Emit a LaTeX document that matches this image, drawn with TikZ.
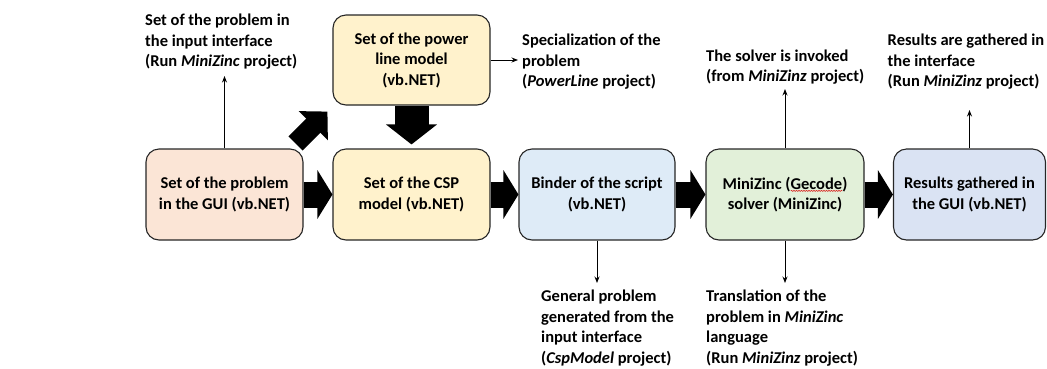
\documentclass[tikz,border=0pt]{standalone}
\usepackage{fontspec}
\setmainfont{Carlito}
\usetikzlibrary{arrows.meta,calc,decorations.pathmorphing}
\definecolor{cPink}{HTML}{FBE5D6}
\definecolor{cYellow}{HTML}{FFF2CC}
\definecolor{cBlue}{HTML}{DEEBF7}
\definecolor{cGreen}{HTML}{E2F0D9}
\definecolor{cLav}{HTML}{DAE3F3}
\newcommand\labfont{\fontsize{16.5}{20.5}\selectfont\bfseries}
\begin{document}
\begin{tikzpicture}[x=1pt,y=-1pt,
  box/.style={draw=black!85, line width=1.1pt, rounded corners=13pt, minimum width=157pt, minimum height=91pt, align=center, inner sep=0pt, font=\labfont},
  lab/.style={anchor=base west, align=left, inner sep=0pt, font=\labfont},
  thinarrow/.style={line width=0.9pt, -{Stealth[length=6.5pt,width=5pt]}},
  bigarrow/.style={line width=26pt, -{Triangle[length=15pt,width=48pt]}},
]
\useasboundingbox (0,0) rectangle (1047,368);

% boxes
\node[box, fill=cPink] (b1) at (224.5,194.5) {Set of the problem\\in the GUI (vb.NET)};
\node[box, fill=cYellow] (b2) at (411.5,194.5) {Set of the CSP\\model (vb.NET)};
\node[box, fill=cYellow, minimum height=90pt] (pw) at (411.5,60) {Set of the power\\line model\\(vb.NET)};
\node[box, fill=cBlue, minimum width=156pt] (b3) at (597,194.5) {Binder of the script\\(vb.NET)};
\node[box, fill=cGreen, minimum width=158pt] (b4) at (785,194.5) {MiniZinc (Gecode)\\solver (MiniZinc)};
\node[box, fill=cLav, minimum width=152pt] (b5) at (969.5,194.5) {Results gathered in\\the GUI (vb.NET)};

% spell-check underline
\draw[red!85!black, line width=0.5pt, decorate, decoration={snake,amplitude=0.5pt,segment length=2.5pt}]
  ($(b4.center)+(5.7,-3.6)$) -- ($(b4.center)+(57.4,-3.6)$);

% big block arrows
\draw[bigarrow] (b1.east) -- (b2.west);
\draw[bigarrow] (b2.east) -- (b3.west);
\draw[bigarrow] (b3.east) -- (b4.west);
\draw[bigarrow] (b4.east) -- (b5.west);
\draw[line width=34pt, -{Triangle[length=20pt,width=50pt]}] (pw.south) -- ($(b2.north)+(0,-4)$);
\draw[line width=20pt, -{Triangle[length=20pt,width=40pt]}] ($(b1.north east)+(-8,-5)$) -- ($(pw.south west)+(-5,6)$);

% labels (anchor = baseline of the last line)
\node[lab] (l1) at (145,66.5) {Set of the problem in\\the input interface\\(Run \textit{MiniZinc} project)};
\node[lab] (l2) at (522,86.5) {Specialization of the\\problem\\(\textit{PowerLine} project)};
\node[lab] (l3) at (706,81.5) {The solver is invoked\\(from \textit{MiniZinz} project)};
\node[lab] (l4) at (887.5,86.5) {Results are gathered in\\the interface\\(Run \textit{MiniZinz} project)};
\node[lab] (l5) at (541,363) {General problem\\generated from the\\input interface\\(\textit{CspModel} project)};
\node[lab] (l6) at (706,363) {Translation of the\\problem in \textit{MiniZinc}\\language\\(Run \textit{MiniZinz} project)};

% thin arrows
\coordinate (t1) at (224.5,76);
\coordinate (t2) at (518,60);
\coordinate (t3) at (785,89);
\coordinate (t4) at (969.5,110);
\coordinate (t5) at (597,283);
\coordinate (t6) at (785,283);
\draw[thinarrow] (b1.north) -- (t1);
\draw[thinarrow] (pw.east) -- (t2);
\draw[thinarrow] (b4.north) -- (t3);
\draw[thinarrow] (b5.north) -- (t4);
\draw[thinarrow] (b3.south) -- (t5);
\draw[thinarrow] (b4.south) -- (t6);
\end{tikzpicture}
\end{document}
